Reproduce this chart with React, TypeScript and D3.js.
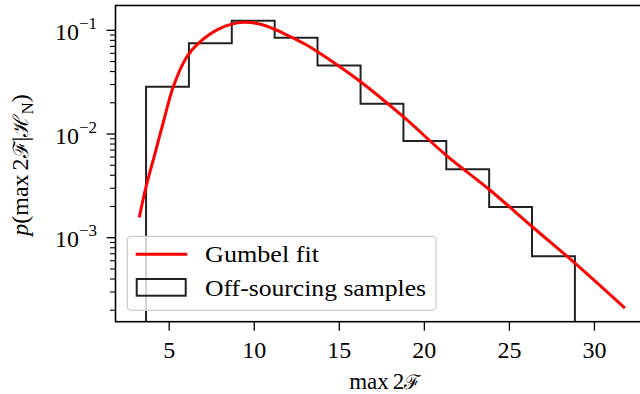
import React from "react";
import * as d3 from "d3";

// Histogram of the off-sourcing maxima (probability density per bin)
const binEdges = [3.64, 6.16, 8.68, 11.2, 13.72, 16.25, 18.77, 21.29, 23.81, 26.33, 28.85];
const binDensity = [0.0286, 0.0749, 0.1237, 0.0848, 0.0458, 0.0196, 0.00856, 0.00458, 0.00198, 0.000662];

// Gumbel fit sampled along max 2F
const fitX = [3.24, 3.64, 4.17, 4.69, 5.24, 6.03, 6.71, 7.99, 9.36, 10.53, 11.71, 13.08, 14.45, 16.25, 18.76, 21.27, 23.85, 26.34, 28.85, 31.79];
const fitY = [0.001566, 0.003103, 0.006516, 0.013646, 0.02858, 0.05526, 0.0749, 0.10454, 0.11941, 0.11249, 0.09357, 0.07212, 0.05171, 0.03194, 0.01468, 0.00627, 0.002884, 0.001276, 0.00057, 0.00021];

const xTicks = [5, 10, 15, 20, 25, 30];
const yMajorExp = [-3, -2, -1];
const legendLabels = ["Gumbel fit", "Off-sourcing samples"];

const W = 640;
const H = 394;
const left = 115.5;
const right = 654;
const top = 5.5;
const bottom = 321.7;
const FONT = "'Liberation Serif', 'DejaVu Serif', serif";
const SCRIPT = "'DejaVu Serif', 'Liberation Serif', serif";

export default function App() {
  const x = d3.scaleLinear().domain([1.844, 33.5]).range([left, right]);
  const y = d3.scaleLog().domain([0.000155, 0.1734]).range([bottom, top]);

  // step outline of the histogram, dropping to below the axes at both ends
  const stepPts: [number, number][] = [];
  stepPts.push([x(binEdges[0]), bottom + 20]);
  binDensity.forEach((d, i) => {
    stepPts.push([x(binEdges[i]), y(d)]);
    stepPts.push([x(binEdges[i + 1]), y(d)]);
  });
  stepPts.push([x(binEdges[binEdges.length - 1]), bottom + 20]);
  const stepPath = d3.line()(stepPts) || "";

  const fitPath =
    d3
      .line<number>()
      .x((_, i) => x(fitX[i]))
      .y((d) => y(d))
      .curve(d3.curveCatmullRom.alpha(0.5))(fitY) || "";

  const minorTicks: number[] = [];
  for (let e = -4; e <= -1; e++) {
    for (let m = 2; m <= 9; m++) {
      const v = m * Math.pow(10, e);
      if (v >= 0.000155 && v <= 0.1734) minorTicks.push(v);
    }
  }

  const txt = { fontFamily: FONT };

  return (
    <svg
      width={W}
      height={H}
      style={{ position: "absolute", left: 0, top: 0, background: "#fff", fontFamily: FONT }}
    >
      <defs>
        <clipPath id="plotArea">
          <rect x={left} y={top} width={right - left} height={bottom - top} />
        </clipPath>
      </defs>
      <rect x={0} y={0} width={W} height={H} fill="#fff" />

      <g clipPath="url(#plotArea)">
        <path d={stepPath} fill="none" stroke="#222" strokeWidth={2} strokeLinejoin="miter" />
        <path d={fitPath} fill="none" stroke="#ff0000" strokeWidth={3} />
      </g>

      {/* spines */}
      <rect x={left} y={top} width={right - left} height={bottom - top} fill="none" stroke="#000" strokeWidth={1.6} />

      {/* x axis */}
      {xTicks.map((t) => (
        <g key={"xt" + t}>
          <line x1={x(t)} x2={x(t)} y1={bottom} y2={bottom + 9} stroke="#000" strokeWidth={1.3} />
          <text x={x(t)} y={357.5} fontSize={24} textAnchor="middle" fill="#000" style={txt}>
            {t}
          </text>
        </g>
      ))}
      <text x={(left + right) / 2} y={388.5} fontSize={23} textAnchor="middle" fill="#000" style={txt}>
        max
        <tspan dx={4}>2</tspan>
        <tspan style={{ fontFamily: SCRIPT }} fontSize={20}>ℱ</tspan>
      </text>

      {/* y axis */}
      {minorTicks.map((t, i) => (
        <line key={"ym" + i} x1={left - 5.5} x2={left} y1={y(t)} y2={y(t)} stroke="#000" strokeWidth={1.1} />
      ))}
      {yMajorExp.map((e) => {
        const v = Math.pow(10, e);
        return (
          <g key={"yt" + e}>
            <line x1={left - 9} x2={left} y1={y(v)} y2={y(v)} stroke="#000" strokeWidth={1.3} />
            <text x={97} y={y(v) + 9.7} fontSize={24} textAnchor="end" fill="#000" style={txt}>
              10
              <tspan fontSize={17} dy={-11}>
                {"\u2212" + Math.abs(e)}
              </tspan>
            </text>
          </g>
        );
      })}
      <text transform="translate(28,165) rotate(-90)" fontSize={24} textAnchor="middle" fill="#000" style={txt}>
        <tspan fontStyle="italic">p</tspan>
        <tspan>(max</tspan>
        <tspan dx={4}>2</tspan>
        <tspan style={{ fontFamily: SCRIPT }} fontSize={21}>ℱ</tspan>
        <tspan>|</tspan>
        <tspan style={{ fontFamily: SCRIPT }} fontSize={21}>ℋ</tspan>
        <tspan fontSize={17} dy={5}>N</tspan>
        <tspan dy={-5}>)</tspan>
      </text>

      {/* legend */}
      <g>
        <rect x={127.3} y={236.3} width={308.7} height={74} rx={4} fill="#fff" fillOpacity={0.8} stroke="#cccccc" strokeWidth={1.3} />
        <line x1={135.7} x2={187.3} y1={254.2} y2={254.2} stroke="#ff0000" strokeWidth={3} />
        <text x={205} y={261.5} fontSize={24} fill="#000" textLength={114} lengthAdjust="spacingAndGlyphs" style={txt}>
          {legendLabels[0]}
        </text>
        <rect x={136.7} y={279} width={49} height={16.7} fill="none" stroke="#222" strokeWidth={2} />
        <text x={205} y={295.5} fontSize={24} fill="#000" textLength={221} lengthAdjust="spacingAndGlyphs" style={txt}>
          {legendLabels[1]}
        </text>
      </g>
    </svg>
  );
}
